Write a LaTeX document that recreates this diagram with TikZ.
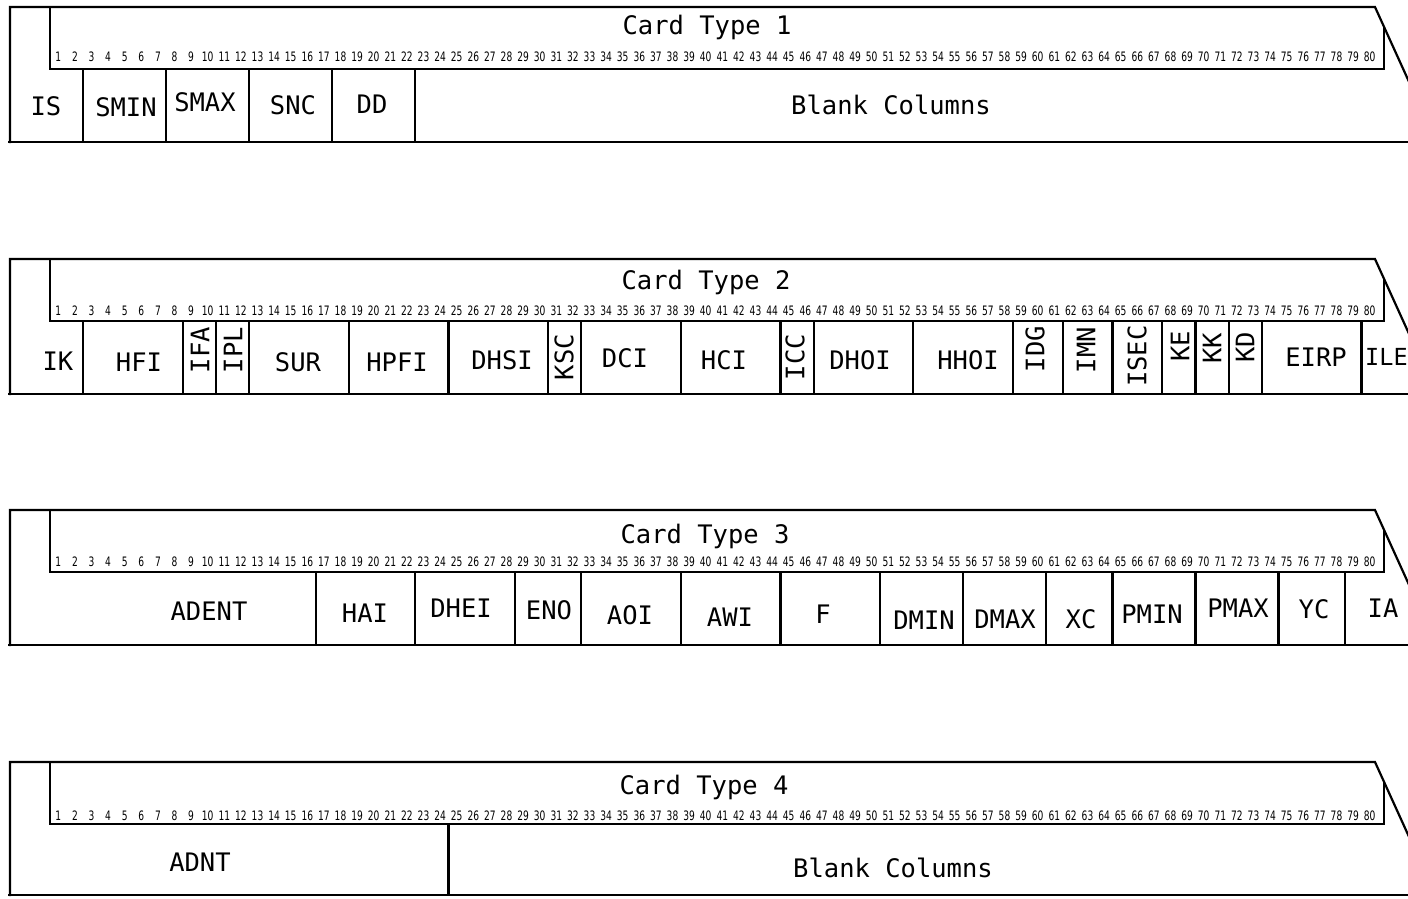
\documentclass[tikz,border=0pt]{standalone}
\usepackage{fontspec}
\newfontfamily\labfont{DejaVu Sans Mono}
\newfontfamily\numfont[FakeStretch=0.7]{DejaVu Sans}
\tikzset{
  cardline/.style={line width=2.2pt, line join=miter, line cap=rect},
  bottomline/.style={line width=2.8pt},
  lab/.style={font=\labfont\fontsize{25.5}{26}\selectfont, inner sep=0pt, anchor=center},
  vlab/.style={lab, rotate=90},
  ttl/.style={font=\labfont\fontsize{25.5}{26}\selectfont, inner sep=0pt, anchor=base},
  colnum/.style={font=\numfont\fontsize{13}{13}\selectfont, inner sep=0pt},
}
\newcommand\cardframe[4]{% #1 id, #2 top, #3 bottom, #4 number offset
  \draw[cardline] (10,#3) -- (10,#2) -- (1375,#2) -- ({1375+(#3-#2)/2.2},#3);
  \draw[cardline] (50,#2) -- (50,#2+62) -- (1384,#2+62) -- (1384,#2+20);
  \draw[cardline,bottomline] (9,#3) -- (1420,#3);
  \foreach \c in {1,...,80} \node[colnum] (#1n\c) at ({50+16.6*(\c-0.5)},#2+#4) {\c};
}
\newcommand\fielddividers[3]{% #1 inner bottom, #2 bottom, #3 list of last columns
  \foreach \c in {#3} \draw[cardline] ({50+16.6*\c},#1) -- ({50+16.6*\c},#2);
}
\begin{document}
\begin{tikzpicture}[x=1pt,y=-1pt]
\clip (0,0) rectangle (1408,898);
\fill[white] (0,0) rectangle (1408,898);

% ---------- Card Type 1 ----------
\cardframe{a}{7}{142}{50}
\fielddividers{69}{142}{2,7,12,17,22}
\node[ttl] (t1) at (707,34) {Card Type 1};
\node[lab] (a1) at (46,106) {IS};
\node[lab] (a2) at (126,107) {SMIN};
\node[lab] (a3) at (205,102) {SMAX};
\node[lab] (a4) at (293,105) {SNC};
\node[lab] (a5) at (372,104) {DD};
\node[lab] (a6) at (891,105) {Blank Columns};

% ---------- Card Type 2 ----------
\cardframe{b}{259}{394}{52}
\fielddividers{321}{394}{2,8,10,12,18,24,30,32,38,44,46,52,58,61,64,67,69,71,73,79}
\node[ttl] (t2) at (706,289) {Card Type 2};
\node[lab] (b1) at (58,361) {IK};
\node[lab] (b2) at (139,362) {HFI};
\node[vlab] (b3) at (200,350) {IFA};
\node[vlab] (b4) at (233,350) {IPL};
\node[lab] (b5) at (298,362) {SUR};
\node[lab] (b6) at (397,362) {HPFI};
\node[lab] (b7) at (502,360) {DHSI};
\node[vlab] (b8) at (564,357) {KSC};
\node[lab] (b9) at (625,358) {DCI};
\node[lab] (b10) at (724,360) {HCI};
\node[vlab] (b11) at (795,357) {ICC};
\node[lab] (b12) at (860,360) {DHOI};
\node[lab] (b13) at (968,360) {HHOI};
\node[vlab] (b14) at (1035,349) {IDG};
\node[vlab] (b15) at (1086,350) {IMN};
\node[vlab] (b16) at (1137,356) {ISEC};
\node[vlab] (b17) at (1180,346) {KE};
\node[vlab] (b18) at (1212,348) {KK};
\node[vlab] (b19) at (1245,347) {KD};
\node[lab] (b20) at (1316,357) {EIRP};
\node[lab,anchor=west,font=\labfont\fontsize{23.5}{24}\selectfont] (b21) at (1365,357) {ILE};

% ---------- Card Type 3 ----------
\cardframe{c}{510}{645}{52}
\fielddividers{572}{645}{16,22,28,32,38,44,50,55,60,64,69,74,78}
\node[ttl] (t3) at (705,543) {Card Type 3};
\node[lab] (c1) at (209,611) {ADENT};
\node[lab] (c2) at (365,613) {HAI};
\node[lab] (c3) at (461,608) {DHEI};
\node[lab] (c4) at (549,610) {ENO};
\node[lab] (c5) at (630,615) {AOI};
\node[lab] (c6) at (730,617) {AWI};
\node[lab] (c7) at (823,614) {F};
\node[lab] (c8) at (924,620) {DMIN};
\node[lab] (c9) at (1005,619) {DMAX};
\node[lab] (c10) at (1081,619) {XC};
\node[lab] (c11) at (1152,614) {PMIN};
\node[lab] (c12) at (1238,608) {PMAX};
\node[lab] (c13) at (1314,609) {YC};
\node[lab] (c14) at (1383,608) {IA};

% ---------- Card Type 4 ----------
\cardframe{d}{762}{895}{54}
\fielddividers{824}{895}{24}
\node[ttl] (t4) at (704,794) {Card Type 4};
\node[lab] (d1) at (200,862) {ADNT};
\node[lab] (d2) at (893,868) {Blank Columns};
\end{tikzpicture}
\end{document}
